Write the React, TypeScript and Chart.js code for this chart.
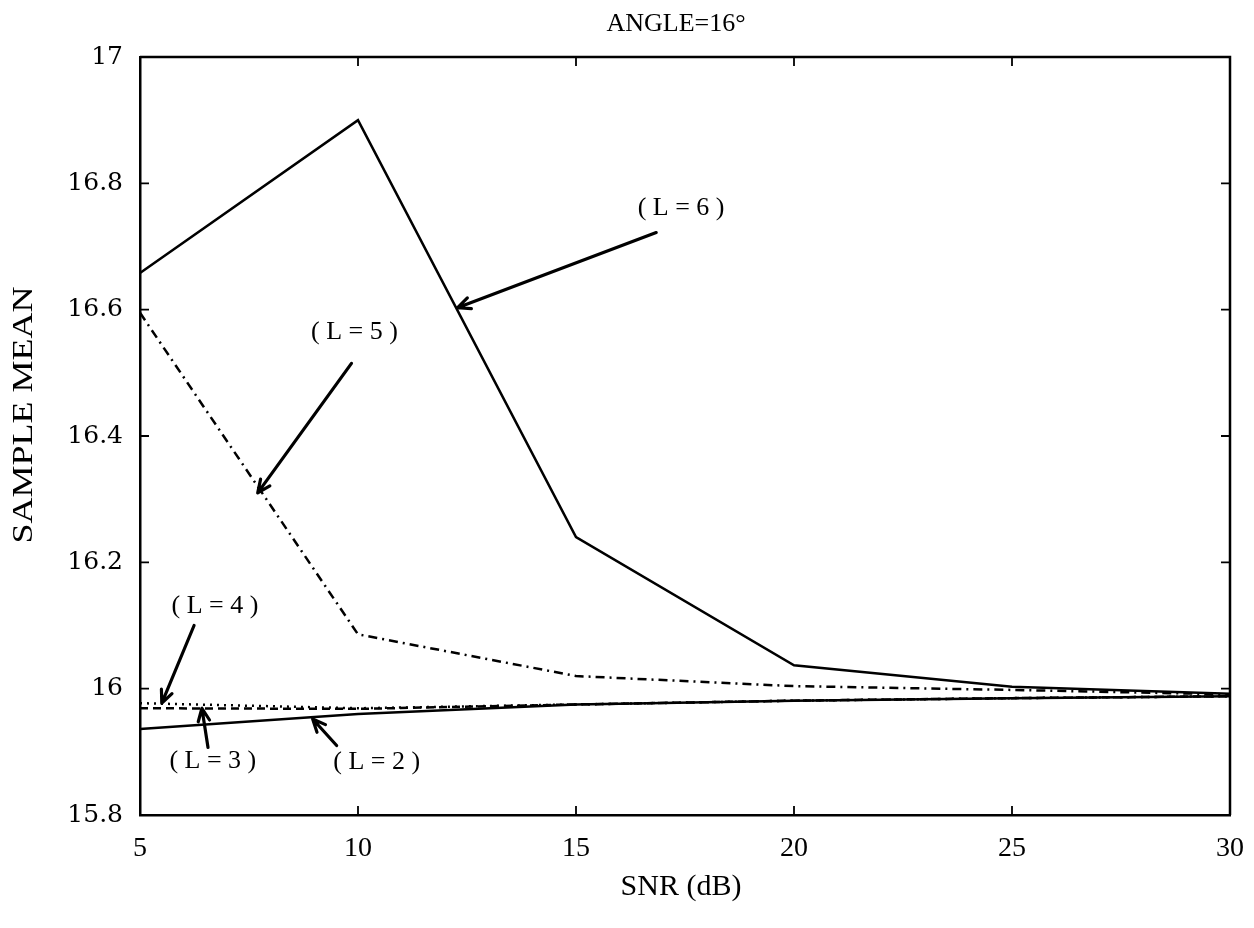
import { useEffect, useRef } from 'react';
import { Chart, registerables } from 'chart.js';

Chart.register(...registerables);

// SNR sweep (dB) and sample mean of the angle estimate for each L
const snr = [5, 10, 15, 20, 25, 30];
const meanL6 = [16.658, 16.9, 16.24, 16.037, 16.003, 15.992];
const meanL5 = [16.595, 16.086, 16.02, 16.004, 15.998, 15.991];
const meanL4 = [15.977, 15.969, 15.975, 15.981, 15.985, 15.988];
const meanL3 = [15.969, 15.968, 15.975, 15.981, 15.985, 15.988];
const meanL2 = [15.936, 15.96, 15.975, 15.981, 15.985, 15.988];

const xTicks = [5, 10, 15, 20, 25, 30];
const yTicks = [15.8, 16, 16.2, 16.4, 16.6, 16.8, 17];

// Curve callouts: text, text anchor, arrow start, arrow tip (data units)
const calloutText = ['( L = 6 )', '( L = 5 )', '( L = 4 )', '( L = 3 )', '( L = 2 )'];
const calloutAt = [[17.41, 16.76], [9.92, 16.565], [6.72, 16.13], [6.67, 15.885], [10.43, 15.884]];
const arrowFrom = [[16.84, 16.722], [9.85, 16.515], [6.24, 16.1], [6.56, 15.907], [9.51, 15.91]];
const arrowTo = [[12.28, 16.603], [7.7, 16.31], [5.5, 15.977], [6.42, 15.969], [8.96, 15.952]];

const W = 1254;
const H = 928;

const pts = (ys: number[]) => snr.map((x, i) => ({ x, y: ys[i] }));

const framePlugin = {
  id: 'frame',
  afterDraw(chart: any) {
    const { ctx, chartArea: a, scales } = chart;
    const xs = scales.x;
    const ys = scales.y;
    ctx.save();
    ctx.strokeStyle = '#000';
    ctx.lineWidth = 2.5;
    // top and right sides of the box
    ctx.beginPath();
    ctx.moveTo(a.left, a.top);
    ctx.lineTo(a.right, a.top);
    ctx.lineTo(a.right, a.bottom);
    ctx.stroke();
    // inward tick marks on all four sides
    const tl = 9;
    ctx.lineWidth = 1.8;
    ctx.beginPath();
    xTicks.slice(1, -1).forEach((v) => {
      const px = xs.getPixelForValue(v);
      ctx.moveTo(px, a.bottom);
      ctx.lineTo(px, a.bottom - tl);
      ctx.moveTo(px, a.top);
      ctx.lineTo(px, a.top + tl);
    });
    yTicks.slice(1, -1).forEach((v) => {
      const py = ys.getPixelForValue(v);
      ctx.moveTo(a.left, py);
      ctx.lineTo(a.left + tl, py);
      ctx.moveTo(a.right, py);
      ctx.lineTo(a.right - tl, py);
    });
    ctx.stroke();

    // titles
    ctx.fillStyle = '#000';
    ctx.textAlign = 'center';
    ctx.textBaseline = 'middle';
    ctx.font = '26px "Liberation Serif"';
    ctx.fillText('ANGLE=16°', 676, 24);
    ctx.font = '30px "Liberation Serif"';
    ctx.fillText('SNR (dB)', 681, 887);
    ctx.save();
    ctx.translate(24, 415);
    ctx.rotate(-Math.PI / 2);
    ctx.scale(1.2, 1);
    ctx.font = '30px "Liberation Serif"';
    ctx.fillText('SAMPLE MEAN', 0, 0);
    ctx.restore();

    // callouts with arrows
    ctx.font = '26px "Liberation Serif"';
    calloutText.forEach((t, i) => {
      const tx = xs.getPixelForValue(calloutAt[i][0]);
      const ty = ys.getPixelForValue(calloutAt[i][1]);
      ctx.fillText(t, tx, ty);
      const x0 = xs.getPixelForValue(arrowFrom[i][0]);
      const y0 = ys.getPixelForValue(arrowFrom[i][1]);
      const x1 = xs.getPixelForValue(arrowTo[i][0]);
      const y1 = ys.getPixelForValue(arrowTo[i][1]);
      ctx.lineWidth = 3.2;
      ctx.lineCap = 'round';
      ctx.lineJoin = 'round';
      ctx.beginPath();
      ctx.moveTo(x0, y0);
      ctx.lineTo(x1, y1);
      const ang = Math.atan2(y1 - y0, x1 - x0);
      const hl = 14;
      const spread = 0.42;
      ctx.moveTo(x1 - hl * Math.cos(ang - spread), y1 - hl * Math.sin(ang - spread));
      ctx.lineTo(x1, y1);
      ctx.lineTo(x1 - hl * Math.cos(ang + spread), y1 - hl * Math.sin(ang + spread));
      ctx.stroke();
    });
    ctx.restore();
  },
};

export default function App() {
  const ref = useRef<HTMLCanvasElement>(null);

  useEffect(() => {
    if (!ref.current) return;
    const line = (data: number[], dash: number[]) => ({
      data: pts(data),
      borderColor: '#000',
      borderWidth: 2.5,
      borderDash: dash,
      pointRadius: 0,
      tension: 0,
      fill: false,
    });
    const chart = new Chart(ref.current, {
      type: 'line',
      data: {
        datasets: [
          { label: 'L=6', ...line(meanL6, []) },
          { label: 'L=5', ...line(meanL5, [9, 5, 2, 5]) },
          { label: 'L=4', ...line(meanL4, [2, 5]) },
          { label: 'L=3', ...line(meanL3, [8, 5]) },
          { label: 'L=2', ...line(meanL2, []) },
        ],
      },
      options: {
        responsive: false,
        animation: false,
        events: [],
        layout: { padding: { left: 0, top: 57, right: 24, bottom: 0 } },
        plugins: {
          legend: { display: false },
          title: { display: false },
          tooltip: { enabled: false },
        },
        scales: {
          x: {
            type: 'linear',
            min: 5,
            max: 30,
            afterBuildTicks: (s: any) => {
              s.ticks = xTicks.map((value) => ({ value }));
            },
            afterFit: (s: any) => {
              s.height = 113;
            },
            grid: { display: false },
            border: { display: true, color: '#000', width: 2.5 },
            ticks: {
              color: '#000',
              padding: 9,
              maxRotation: 0,
              font: { family: '"Liberation Serif"', size: 28 },
              callback: (v: any) => String(v),
            },
          },
          y: {
            type: 'linear',
            min: 15.8,
            max: 17,
            afterBuildTicks: (s: any) => {
              s.ticks = yTicks.map((value) => ({ value }));
            },
            afterFit: (s: any) => {
              s.width = 140;
            },
            grid: { display: false },
            border: { display: true, color: '#000', width: 2.5 },
            ticks: {
              color: '#000',
              padding: 9,
              font: { family: '"DejaVu Serif"', size: 25 },
              callback: (v: any) => String(Number(Number(v).toFixed(1))),
            },
          },
        },
      },
      plugins: [framePlugin],
    });
    return () => chart.destroy();
  }, []);

  return (
    <div style={{ position: 'absolute', left: 0, top: 0, width: W, height: H, background: '#fff' }}>
      <canvas ref={ref} width={W} height={H} />
    </div>
  );
}
